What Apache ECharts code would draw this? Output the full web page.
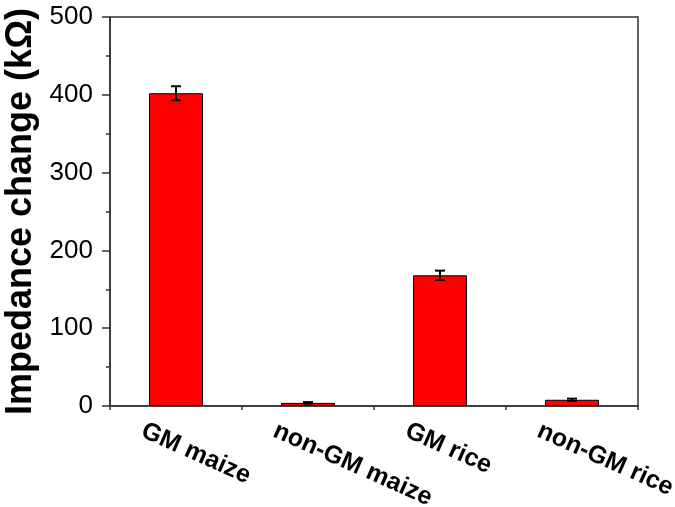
<!DOCTYPE html>
<html>
<head>
<meta charset="utf-8">
<script src="https://cdn.jsdelivr.net/npm/echarts@6/dist/echarts.min.js"></script>
<style>
  html, body { margin: 0; padding: 0; background: #fff; }
  #chart_main { width: 675px; height: 507px; }
</style>
</head>
<body>
<div id="chart_main"></div>
<script type="text/javascript">
var categories = ['GM maize', 'non-GM maize', 'GM rice', 'non-GM rice'];
var impedance = [402, 4, 168, 8];
var errors = [9, 1, 6, 1.5];

var font = 'Arial, "Liberation Sans", sans-serif';
var axisColor = '#333';

var myChart = echarts.init(document.getElementById('chart_main'));

var errData = [];
for (var i = 0; i < categories.length; i++) {
    errData.push([i, impedance[i] - errors[i], impedance[i] + errors[i]]);
}

var option = {
    animation: false,
    grid: {
        left: 110, right: 37, top: 17, bottom: 101,
        outerBoundsMode: 'none',
        containLabel: false,
        show: true, borderColor: axisColor, borderWidth: 1.5, backgroundColor: 'transparent'
    },
    xAxis: [{
        type: 'category',
        data: categories,
        axisLine: { lineStyle: { color: axisColor, width: 1.5 } },
        axisTick: { alignWithLabel: true, length: 8, lineStyle: { color: axisColor, width: 1.5 } },
        axisLabel: {
            rotate: -24,
            align: 'left',
            verticalAlign: 'top',
            padding: [0, 0, 0, -31],
            margin: 25,
            color: '#000',
            fontFamily: font,
            fontWeight: 'bold',
            fontSize: 25
        },
        splitLine: { show: false }
    }, {
        type: 'category',
        data: categories,
        position: 'bottom',
        axisLine: { show: false },
        axisTick: { show: true, alignWithLabel: false, length: 4, lineStyle: { color: axisColor, width: 1.5 } },
        axisLabel: { show: false },
        splitLine: { show: false }
    }],
    yAxis: {
        type: 'value',
        min: 0,
        max: 500,
        interval: 100,
        name: 'Impedance change (kΩ)',
        nameLocation: 'middle',
        nameGap: 70,
        nameTextStyle: { color: '#000', fontFamily: font, fontWeight: 'bold', fontSize: 36 },
        axisLine: { show: true, lineStyle: { color: axisColor, width: 1.5 } },
        axisTick: { show: true, length: 8, lineStyle: { color: axisColor, width: 1.5 } },
        minorTick: { show: true, splitNumber: 2, length: 4, lineStyle: { color: axisColor, width: 1.5 } },
        axisLabel: {
            margin: 17,
            color: '#000',
            fontFamily: font,
            fontSize: 26
        },
        splitLine: { show: false }
    },
    series: [{
        type: 'bar',
        data: impedance,
        barWidth: 54,
        itemStyle: { color: '#ff0000', borderColor: '#000', borderWidth: 1 }
    }, {
        type: 'custom',
        data: errData,
        z: 10,
        renderItem: function (params, api) {
            var x = api.value(0);
            var lo = api.coord([x, api.value(1)]);
            var hi = api.coord([x, api.value(2)]);
            var half = 5;
            var st = { stroke: '#000', lineWidth: 2 };
            return {
                type: 'group',
                children: [
                    { type: 'line', shape: { x1: lo[0], y1: lo[1], x2: hi[0], y2: hi[1] }, style: st },
                    { type: 'line', shape: { x1: lo[0] - half, y1: lo[1], x2: lo[0] + half, y2: lo[1] }, style: st },
                    { type: 'line', shape: { x1: hi[0] - half, y1: hi[1], x2: hi[0] + half, y2: hi[1] }, style: st }
                ]
            };
        }
    }]
};
myChart.setOption(option);
</script>
</body>
</html>
